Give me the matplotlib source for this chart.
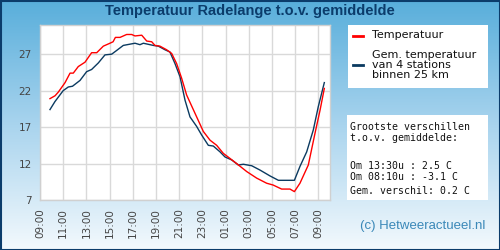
import numpy as np
import matplotlib
matplotlib.use("Agg")
import matplotlib.pyplot as plt
from matplotlib.colors import LinearSegmentedColormap
from matplotlib.patches import Rectangle

# ---- data (hours since 09:00) ----
red_h = [0.86, 1.3, 1.58, 2.16, 2.59, 2.87, 3.3, 3.88, 4.45, 4.89, 5.46, 6.03, 6.3, 6.5,
         6.9, 7.47, 7.9, 8.19, 8.77, 9.2, 9.63, 9.91, 10.34, 10.92, 11.35, 11.78, 12.21,
         12.64, 13.36, 14.08, 14.66, 15.23, 15.8, 16.38, 16.95, 17.82, 18.68, 19.54,
         20.1, 20.83, 21.55, 21.93, 22.41, 23.13, 23.7, 24.14, 24.51]
red_t = [20.9, 21.3, 21.8, 23.1, 24.4, 24.4, 25.3, 25.9, 27.2, 27.2, 28.1, 28.5, 28.7, 29.3,
         29.3, 29.7, 29.7, 29.5, 29.6, 28.8, 28.7, 28.2, 28.1, 27.6, 27.1, 25.7, 23.7,
         21.4, 18.9, 16.4, 15.2, 14.5, 13.4, 12.7, 12.0, 10.9, 10.0, 9.3,
         9.05, 8.5, 8.5, 8.15, 9.3, 11.8, 16.1, 19.3, 22.3]
blue_h = [0.86, 1.29, 2.0, 2.44, 2.8, 3.45, 4.02, 4.45, 5.03, 5.6, 6.18, 6.6, 7.18, 8.19,
          8.62, 8.91, 9.77, 10.2, 10.78, 11.2, 11.64, 12.07, 12.5, 12.93, 13.5, 13.94,
          14.51, 14.94, 15.52, 15.95, 16.52, 17.1, 17.53, 18.25, 18.97, 19.83, 20.55,
          21.93, 22.41, 22.99, 23.56, 23.99, 24.51]
blue_t = [19.4, 20.5, 22.0, 22.5, 22.6, 23.4, 24.6, 24.9, 25.8, 26.9, 27.0, 27.5, 28.2, 28.5,
          28.3, 28.5, 28.2, 28.1, 27.6, 27.3, 25.7, 23.9, 20.7, 18.4, 17.1, 15.9,
          14.5, 14.4, 13.6, 12.9, 12.5, 11.8, 11.9, 11.7, 11.1, 10.3, 9.7,
          9.7, 11.6, 13.6, 16.6, 19.8, 23.1]
x_tick_pos = [0, 2, 4, 6, 8, 10, 12, 14, 16, 18, 20, 22, 24]
x_tick_labels = ["09:00", "11:00", "13:00", "15:00", "17:00", "19:00", "21:00",
                 "23:00", "01:00", "03:00", "05:00", "07:00", "09:00"]
y_ticks = [7, 12, 17, 22, 27]

title = "Temperatuur Radelange t.o.v. gemiddelde"
legend_labels = ["Temperatuur", "Gem. temperatuur\nvan 4 stations\nbinnen 25 km"]
stats_lines = ["Grootste verschillen", "t.o.v. gemiddelde:", "",
               "Om 13:30u : 2.5 C", "Om 08:10u : -3.1 C", "Gem. verschil: 0.2 C"]
credit = "(c) Hetweeractueel.nl"

RED = "#ff0000"
BLUE = "#0b3a60"
NAVY = "#0b3c6b"

W, H = 500, 250
fig = plt.figure(figsize=(5, 2.5), dpi=100)

# background gradient
bg = fig.add_axes([0, 0, 1, 1], zorder=0)
cmap = LinearSegmentedColormap.from_list("g", ["#58aedb", "#a9d4ee", "#f3f9fd"])
grad = np.linspace(0, 1, 256).reshape(-1, 1)
bg.imshow(grad, aspect="auto", cmap=cmap, extent=[0, 1, 0, 1], origin="upper")
bg.set_xlim(0, 1); bg.set_ylim(0, 1)
bg.axis("off")

# main axes
ax = fig.add_axes([40 / W, 50 / H, 290 / W, 175 / H], zorder=2)
ax.set_facecolor("white")
ax.plot(blue_h, blue_t, color=BLUE, lw=1.0, zorder=3)
ax.plot(red_h, red_t, color=RED, lw=1.0, zorder=4)
ax.set_xlim(0, 25)
ax.set_ylim(7, 31)
ax.set_xticks(x_tick_pos)
ax.set_xticklabels(x_tick_labels, rotation=90, fontsize=7.5, color="#444444",
                   family="DejaVu Sans")
ax.set_yticks(y_ticks)
ax.set_yticklabels([str(v) for v in y_ticks], fontsize=7.5, color="#444444",
                   family="DejaVu Sans")
ax.tick_params(length=0, pad=6)
ax.grid(True, color="#d9d9d9", lw=1.0)
ax.set_axisbelow(True)
for s in ax.spines.values():
    s.set_color("#d0d0d0")
    s.set_linewidth(1.0)

# overlay axes in pixel coordinates
ov = fig.add_axes([0, 0, 1, 1], zorder=3)
ov.set_xlim(0, W); ov.set_ylim(H, 0)
ov.axis("off")
ov.patch.set_alpha(0)

# border
ov.add_patch(Rectangle((0.5, 0.5), W - 1, H - 1, fill=False, ec=NAVY, lw=1.5))

ov.text(250, 11, title, ha="center", va="center", fontsize=10.5, fontweight="bold",
        color=NAVY, family="Liberation Sans")

# legend box
ov.add_patch(Rectangle((348, 25), 140, 63, fc="white", ec="none"))
ov.plot([353, 363], [35.5, 35.5], color=RED, lw=2)
ov.plot([353, 363], [65, 65], color=BLUE, lw=2)
ov.text(372.5, 35, legend_labels[0], ha="left", va="center", fontsize=8,
        color="#111111", family="DejaVu Sans")
ov.text(372.5, 65, legend_labels[1], ha="left", va="center", fontsize=8,
        color="#111111", family="DejaVu Sans", linespacing=0.95)

# stats box
ov.add_patch(Rectangle((347, 115), 141, 85, fc="white", ec="none"))
ys = [126.7, 138.3, 152, 165.7, 177.5, 190.5]
for yy, line in zip(ys, stats_lines):
    ov.text(350, yy, line, ha="left", va="center", fontsize=7.1, color="#111111",
            family="DejaVu Sans Mono")

ov.text(423, 226, credit, ha="center", va="center", fontsize=9.5, color="#3a88b8",
        family="Liberation Sans")

fig.savefig("out.png", dpi=100)
